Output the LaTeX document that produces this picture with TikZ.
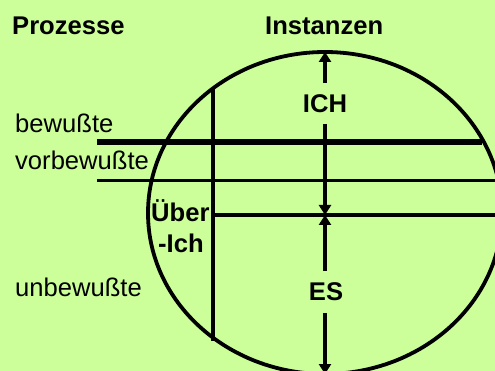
\documentclass[tikz,border=0pt]{standalone}
\usepackage{fontspec}
\setmainfont{Liberation Sans}
\usetikzlibrary{arrows.meta}
\definecolor{bg}{RGB}{204,255,153}
\tikzset{
  lbl/.style={inner sep=0pt, font=\fontsize{25.6}{30}\selectfont, text=black},
  blbl/.style={lbl, font=\fontsize{25.6}{30}\selectfont\bfseries},
  rim/.style={line width=3.8pt},
  thickline/.style={line width=5.5pt},
  thinline/.style={line width=3pt},
  midline/.style={line width=3.8pt},
  arr/.style={line width=4pt, -{Triangle[width=12pt,length=10pt]}},
}
\begin{document}
\begin{tikzpicture}[x=1pt,y=-1pt]
\useasboundingbox (0,0) rectangle (495,371);
\fill[bg] (0,0) rectangle (495,371);
\clip (0,0) rectangle (495,371);

% ellipse (psychic apparatus)
\draw[rim] (325,213) ellipse [x radius=177pt, y radius=161pt];

% horizontal lines
\coordinate (b1) at (97,142);  \coordinate (b2) at (482,142);
\coordinate (v1) at (97,181);  \coordinate (v2) at (499,181);
\coordinate (u1) at (213,215); \coordinate (u2) at (503,215);
\coordinate (s1) at (213,88);  \coordinate (s2) at (213,341);
\draw[thickline] (b1) -- (b2);
\draw[thinline] (v1) -- (v2);
\draw[midline] (u1) -- (u2);
\draw[midline] (s1) -- (s2);

% texts
\node[blbl, anchor=base west] (proz) at (12,35) {Prozesse};
\node[blbl, anchor=base west] (inst) at (265,35) {Instanzen};
\node[lbl, anchor=base west] (bew) at (15,133) {bewußte};
\node[lbl, anchor=base west] (vorb) at (15,170) {vorbewußte};
\node[lbl, anchor=base west] (unb) at (15,296) {unbewußte};
\node[blbl, anchor=base] (ich) at (325,113) {ICH};
\node[blbl, anchor=base] (es) at (326,301) {ES};
\node[blbl, anchor=base west] (ueber) at (151,222) {Über};
\node[blbl, anchor=base west] (uich) at (158,253) {-Ich};

% arrows
\coordinate (top) at (325,52);
\coordinate (ichA) at (325,83);
\coordinate (ichB) at (325,124);
\coordinate (mid) at (325,215);
\coordinate (esA) at (325,271);
\coordinate (esB) at (325,313);
\coordinate (bot) at (325,374);
\draw[arr] (ichA) -- (top);
\draw[arr] (ichB) -- (mid);
\draw[arr] (esA) -- (mid);
\draw[arr] (esB) -- (bot);
\end{tikzpicture}
\end{document}
